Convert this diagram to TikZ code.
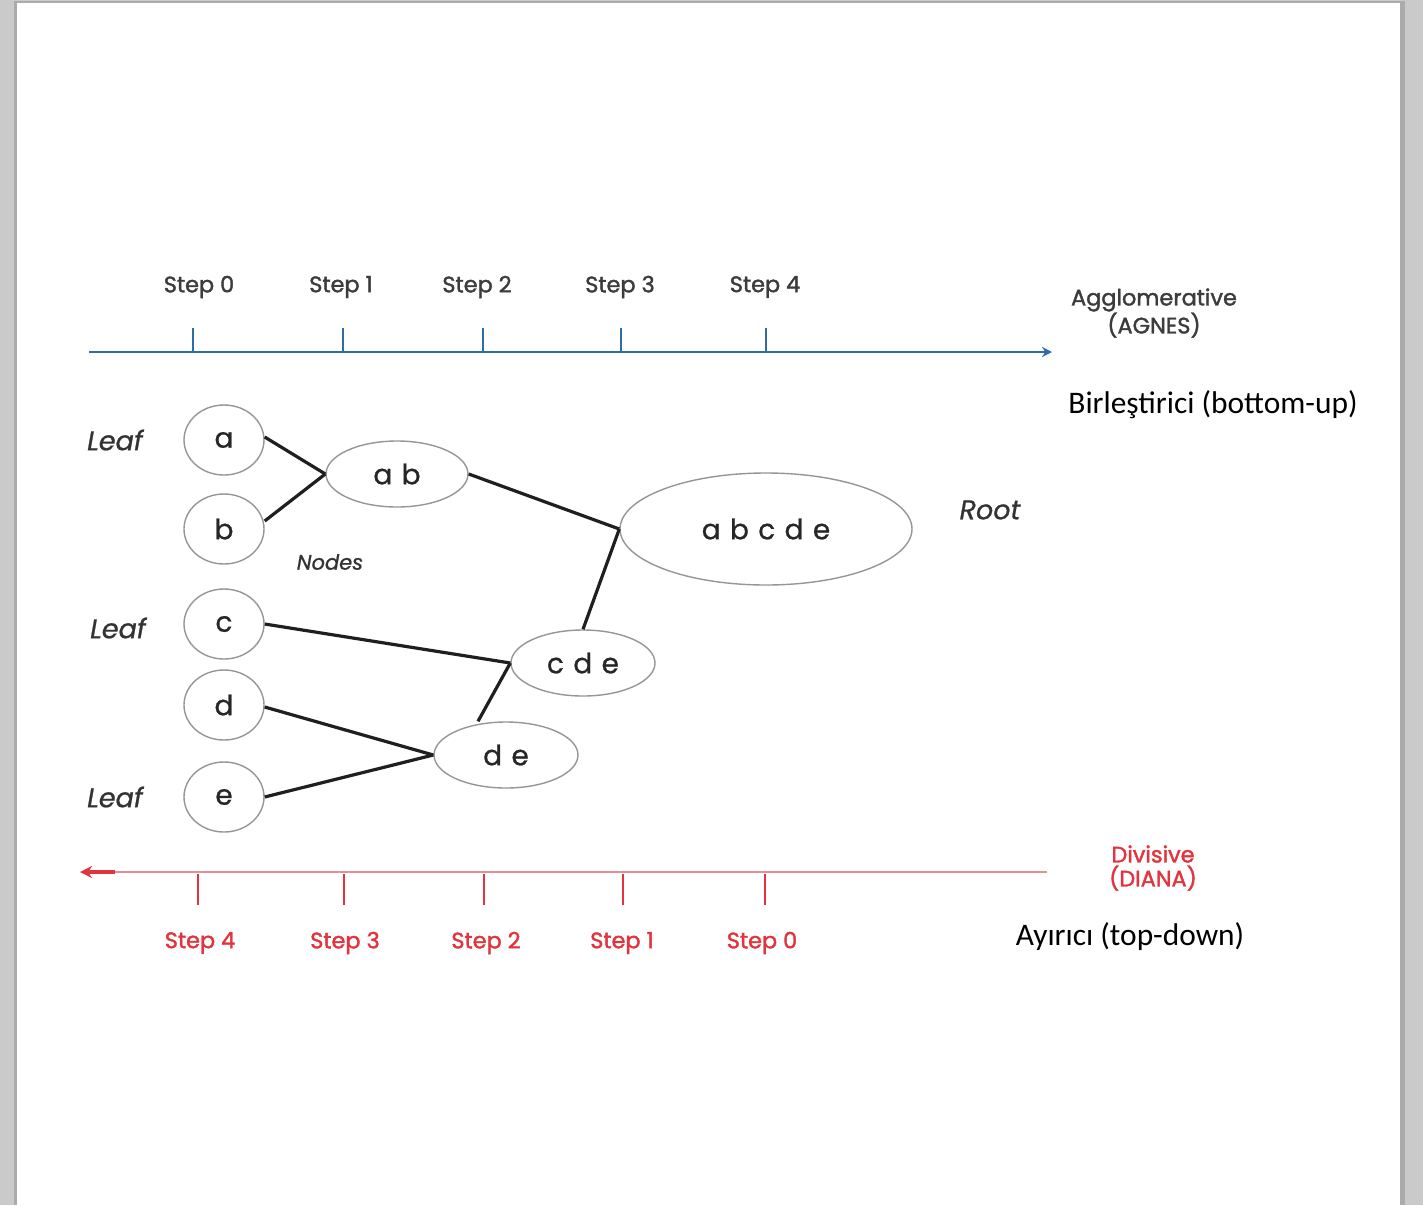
\documentclass[tikz,border=0pt]{standalone}
\usepackage{fontspec}
\setmainfont{Poppins}
\newfontfamily\popsemi{Poppins}[FakeBold=1.6]
\newfontfamily\popmid{Poppins}[FakeBold=0.8]
\newfontfamily\calib{Carlito}
\usetikzlibrary{arrows.meta,shapes.geometric}
\definecolor{pagegray}{RGB}{201,202,201}
\definecolor{shadowgray}{RGB}{170,171,170}
\definecolor{axisblue}{RGB}{46,108,165}
\definecolor{axisred}{RGB}{226,52,62}
\definecolor{axispink}{RGB}{236,140,146}
\definecolor{labelgray}{RGB}{60,60,60}
\definecolor{ringgray}{RGB}{150,150,150}
\tikzset{
  cluster/.style={draw=ringgray, line width=0.7pt, ellipse, inner sep=0pt,
    font=\popmid\fontsize{14}{16}\selectfont, text=black!85},
  leafbox/.style={cluster, minimum width=40pt, minimum height=35pt},
  link/.style={line width=1.6pt, black!88},
  stepup/.style={font=\popsemi\fontsize{11.2}{13}\selectfont, text=labelgray},
  stepdown/.style={font=\popsemi\fontsize{11.2}{13}\selectfont, text=axisred},
  tag/.style={font=\popmid\itshape\fontsize{13.5}{15}\selectfont, text=black!80},
  note/.style={font=\calib\fontsize{15.7}{18}\selectfont, text=black},
  uptick/.style={axisblue, line width=1.3pt},
  downtick/.style={axisred, line width=1.3pt},
}
\begin{document}
\begin{tikzpicture}[x=0.5pt,y=-0.5pt]
% page and its shadow
\fill[pagegray] (0,0) rectangle (1423,1205);
\fill[shadowgray] (14,1) rectangle (1405,1205);
\fill[white] (17,3) rectangle (1400,1205);
\useasboundingbox (0,0) rectangle (1423,1205);

% agglomerative axis
\coordinate (uL) at (89,352);
\coordinate (uR) at (1052,352);
\draw[axisblue, line width=1.2pt, -{Stealth[length=5pt,width=5pt]}] (uL) -- (uR);
\foreach \x in {193,343,483,621,766}{
  \draw[uptick] (\x,328) -- (\x,352);
}
\node[stepup] (s0) at (199,287) {Step 0};
\node[stepup] (s1) at (341,287) {Step 1};
\node[stepup] (s2) at (477,287) {Step 2};
\node[stepup] (s3) at (620,287) {Step 3};
\node[stepup] (s4) at (765,287) {Step 4};
\node[stepup, align=center, font=\popsemi\fontsize{11.2}{14}\selectfont] (agnes) at (1154,313) {Agglomerative\\(AGNES)};
\node[note] (birl) at (1213,405) {Birleştirici (bottom-up)};

% divisive axis
\coordinate (dR) at (1047,872);
\coordinate (dL) at (115,872);
\coordinate (dTip) at (80,872);
\draw[axispink, line width=1.1pt] (dR) -- (dL);
\draw[axisred, line width=1.6pt, -{Stealth[length=6pt,width=6pt]}] (dL) -- (dTip);
\foreach \x in {198,344,484,623,765}{
  \draw[downtick] (\x,874) -- (\x,905);
}
\node[stepdown] (t4) at (200,943) {Step 4};
\node[stepdown] (t3) at (345,943) {Step 3};
\node[stepdown] (t2) at (486,943) {Step 2};
\node[stepdown] (t1) at (622,943) {Step 1};
\node[stepdown] (t0) at (762,943) {Step 0};
\node[stepdown, align=center, font=\popsemi\fontsize{11.2}{12}\selectfont] (diana) at (1153,868) {Divisive\\(DIANA)};
\node[note] (ayr) at (1130,937) {Ayırıcı (top-down)};

% clusters
\node[leafbox] (a) at (224,440) {a};
\node[leafbox] (b) at (224,529) {b};
\node[leafbox] (c) at (224,624) {c};
\node[leafbox] (d) at (224,705) {d};
\node[leafbox] (e) at (224,797) {e};
\node[cluster, minimum width=71pt, minimum height=33pt] (ab) at (397,474) {a\,\,b};
\node[cluster, minimum width=146pt, minimum height=56pt] (abcde) at (766,529) {a\,\,b\,\,c\,\,d\,\,e};
\node[cluster, minimum width=72pt, minimum height=33pt] (cde) at (583,663) {c\,\,d\,\,e};
\node[cluster, minimum width=72pt, minimum height=33pt] (de) at (506,755) {d\,\,e};

% merges
\coordinate (aE) at ([yshift=1.5pt]a.east);
\coordinate (bE) at ([yshift=4pt]b.east);
\coordinate (deN) at ([xshift=-14pt]de.north);
\draw[link] (aE) -- (ab.west);
\draw[link] (bE) -- (ab.west);
\draw[link] (ab.east) -- (abcde.west);
\draw[link] (cde.north) -- (abcde.west);
\draw[link] (c.east) -- (cde.west);
\draw[link] (deN) -- (cde.west);
\draw[link] ([yshift=-1pt]d.east) -- (de.west);
\draw[link] (e.east) -- (de.west);

% labels
\node[tag] (leaf1) at (115,440) {Leaf};
\node[tag] (leaf2) at (118,628) {Leaf};
\node[tag] (leaf3) at (115,797) {Leaf};
\node[tag] (root) at (990,510) {Root};
\node[tag, font=\popmid\itshape\fontsize{10.5}{12}\selectfont] (nodes) at (330,562) {Nodes};
\end{tikzpicture}
\end{document}
